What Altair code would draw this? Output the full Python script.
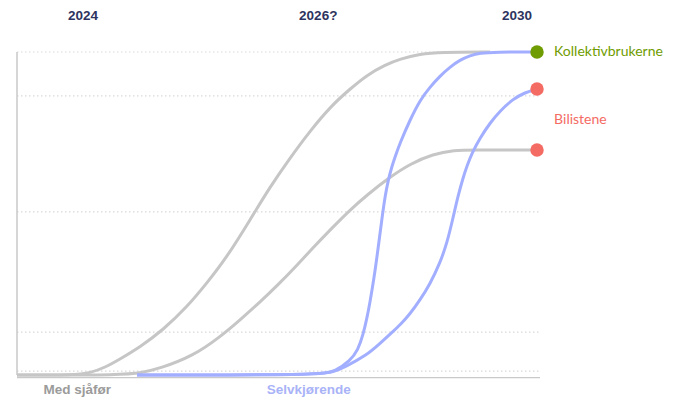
import altair as alt
import pandas as pd

# ---- data (x: abstract time 0..100, y: adoption 0..100) ----
gray_koll_x = [0, 11.09, 13.96, 16.83, 19.69, 23.52, 27.92, 32.50, 36.33, 40.15, 44.55, 48.37, 52.20,
               56.02, 60.04, 63.67, 66.92, 70.36, 73.23, 77.06, 80.88, 90.44]
gray_koll_y = [0, 0, 0.62, 2.32, 4.95, 8.67, 13.93, 21.05, 28.48, 36.53, 47.99, 58.20, 67.18,
               75.54, 83.28, 88.54, 92.88, 95.98, 97.83, 99.38, 99.91, 100]

gray_bil_x = [0, 20.65, 23.52, 27.34, 33.65, 38.81, 42.64, 46.46, 49.71, 54.11, 56.02, 60.42, 63.67,
              66.92, 71.32, 75.14, 79.54, 83.75, 86.62, 99.43]
gray_bil_y = [0, 0, 0.62, 2.01, 5.88, 11.76, 17.03, 22.60, 27.55, 34.98, 38.39, 45.82, 51.08,
              55.73, 61.30, 65.33, 68.42, 69.60, 69.66, 69.66]

blue_koll_x = [22.94, 57.93, 60.80, 63.67, 65.20, 66.16, 66.92, 67.50, 68.26, 68.83, 69.79, 70.36, 70.94,
               71.70, 72.28, 73.23, 75.14, 77.06, 78.97, 80.88, 82.79, 84.70, 86.62, 88.53, 91.40, 99.43]
blue_koll_y = [0, 0, 1.08, 4.33, 7.74, 12.38, 17.65, 22.60, 30.03, 36.53, 48.61, 55.11, 60.06,
               64.71, 67.49, 71.83, 78.95, 85.14, 89.16, 92.57, 95.36, 97.52, 98.92, 99.69, 100, 100]

blue_bil_x = [22.94, 57.93, 60.42, 62.72, 66.92, 69.41, 71.89, 73.23, 75.14, 77.06, 78.97, 80.88, 82.22,
              83.37, 84.32, 85.28, 86.04, 87.00, 88.53, 90.44, 92.35, 94.84, 97.13, 99.43]
blue_bil_y = [0, 0, 0.93, 2.48, 6.19, 9.75, 13.47, 15.48, 18.89, 23.22, 28.17, 34.67, 40.87,
              48.61, 55.42, 60.99, 64.71, 68.73, 73.37, 78.02, 81.73, 85.45, 87.46, 88.54]

grid_y = [100, 86.4, 50.5, 13.3, 1.2]

dot_x = [99.43, 99.43, 99.43]
dot_y = [100, 88.54, 69.66]
dot_color = ["#6f9c00", "#f46b63", "#f46b63"]

top_labels = ["2024", "2026?", "2030"]
top_x = [12.6, 57.6, 95.6]
top_y = 111.3

bottom_labels = ["Med sjåfør", "Selvkjørende"]
bottom_x = [11.5, 55.8]
bottom_colors = ["#9b9b9b", "#a9b3f7"]
bottom_y = -4.5

right_labels = ["Kollektivbrukerne", "Bilistene"]
right_x = [102.7, 102.7]
right_y = [100, 78.9]
right_colors = ["#6f9c00", "#f46b63"]

# ---- build tables ----
rows = []
for name, xs_, ys_, col in [
    ("gray_koll", gray_koll_x, gray_koll_y, "#c6c6c6"),
    ("gray_bil", gray_bil_x, gray_bil_y, "#c6c6c6"),
    ("blue_koll", blue_koll_x, blue_koll_y, "#a2aeff"),
    ("blue_bil", blue_bil_x, blue_bil_y, "#a2aeff"),
]:
    for i, (xv, yv) in enumerate(zip(xs_, ys_)):
        rows.append({"series": name, "x": xv, "y": yv, "i": i, "c": col})
lines_df = pd.DataFrame(rows)

def xs():
    return alt.Scale(domain=[0, 100], nice=False, zero=False)

def ys():
    return alt.Scale(domain=[0, 100], nice=False, zero=False)

grid_df = pd.DataFrame({"y": grid_y, "x": [0] * len(grid_y), "x2": [100] * len(grid_y)})
grid = alt.Chart(grid_df).mark_rule(
    color="#d9d9d9", strokeWidth=1.2, strokeDash=[1.5, 2.5]
).encode(
    y=alt.Y("y:Q", scale=ys(), axis=None),
    x=alt.X("x:Q", scale=xs(), axis=None),
    x2="x2:Q",
)

axes_df = pd.DataFrame({
    "x": [0, 0], "x2": [0, 100], "y": [0, -0.8], "y2": [100, -0.8], "w": [1.5, 1.2]
})
axes = alt.Chart(axes_df).mark_rule(color="#c9c9c9").encode(
    x=alt.X("x:Q", scale=xs(), axis=None),
    x2="x2:Q",
    y=alt.Y("y:Q", scale=ys(), axis=None),
    y2="y2:Q",
    strokeWidth=alt.StrokeWidth("w:Q", scale=None),
)

lines = alt.Chart(lines_df).mark_line(interpolate="basis", strokeWidth=3, strokeCap="butt").encode(
    x=alt.X("x:Q", scale=xs(), axis=None),
    y=alt.Y("y:Q", scale=ys(), axis=None),
    detail="series:N",
    color=alt.Color("c:N", scale=None),
    order="i:Q",
)

dots = alt.Chart(pd.DataFrame({"x": dot_x, "y": dot_y, "c": dot_color})).mark_circle(size=180, opacity=1).encode(
    x=alt.X("x:Q", scale=xs(), axis=None),
    y=alt.Y("y:Q", scale=ys(), axis=None),
    color=alt.Color("c:N", scale=None),
)

top_text = alt.Chart(pd.DataFrame({"t": top_labels, "x": top_x, "y": [top_y] * 3})).mark_text(
    font="Liberation Sans Narrow, Arial Narrow, Liberation Sans, sans-serif",
    fontWeight="bold", fontSize=13.5, color="#2d335e", align="center", baseline="middle",
).encode(x=alt.X("x:Q", scale=xs(), axis=None), y=alt.Y("y:Q", scale=ys(), axis=None), text="t:N")

bottom_text = alt.Chart(pd.DataFrame({"t": bottom_labels, "x": bottom_x, "y": [bottom_y] * 2, "c": bottom_colors})).mark_text(
    font="Liberation Sans Narrow, Arial Narrow, Liberation Sans, sans-serif",
    fontWeight="bold", fontSize=13.5, align="center", baseline="middle",
).encode(x=alt.X("x:Q", scale=xs(), axis=None), y=alt.Y("y:Q", scale=ys(), axis=None), text="t:N",
         color=alt.Color("c:N", scale=None))

right_text = alt.Chart(pd.DataFrame({"t": right_labels, "x": right_x, "y": right_y, "c": right_colors})).mark_text(
    font="Lato", fontSize=14, align="left", baseline="middle",
).encode(x=alt.X("x:Q", scale=xs(), axis=None), y=alt.Y("y:Q", scale=ys(), axis=None), text="t:N",
         color=alt.Color("c:N", scale=None))

chart = alt.layer(grid, axes, lines, dots, top_text, bottom_text, right_text).properties(
    width=523, height=323,
    padding={"left": 9, "right": 125, "top": 44, "bottom": 24},
    autosize=alt.AutoSizeParams(type="none"),
).configure_view(stroke=None)

chart.save("out.html", embed_options={"renderer": "svg", "actions": False})
